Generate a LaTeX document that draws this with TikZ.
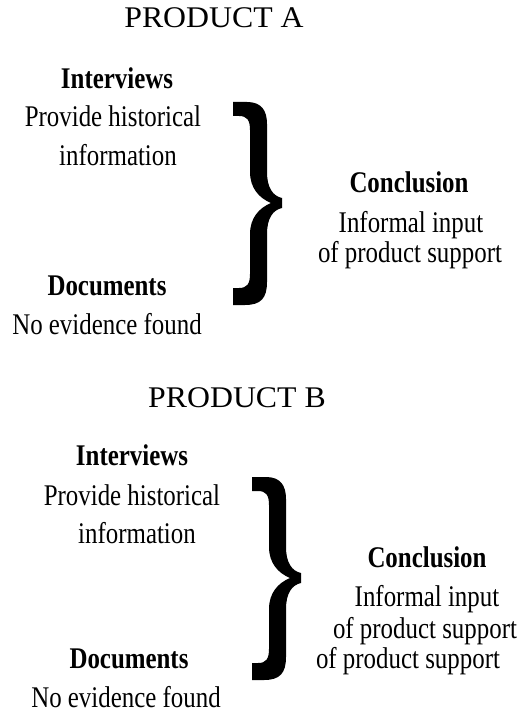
\documentclass[tikz,border=0pt]{standalone}
\usepackage{fontspec}
\setmainfont{Liberation Serif}[FakeStretch=0.83]
\newfontfamily\titlefont{Liberation Serif}[FakeStretch=1.06]

\begin{document}
\begin{tikzpicture}[x=1pt,y=-1pt,
  txt/.style={anchor=base,inner sep=0pt,font=\fontsize{30}{36}\selectfont},
  head/.style={anchor=base,inner sep=0pt,font=\fontsize{30}{36}\selectfont\bfseries},
  title/.style={anchor=base,inner sep=0pt,font=\titlefont\fontsize{30}{36}\selectfont},
  curly/.pic={
    % heavy closing brace, 49 wide and 203 tall, tip pointing right
    \fill[black] (0,0) -- (14,0) .. controls (28,0) and (34,8) .. (34,22)
      -- (34,70) .. controls (34,86) and (40,94) .. (49,96)
      -- (49,106) .. controls (40,108) and (34,116) .. (34,132)
      -- (34,180) .. controls (34,196) and (28,203) .. (12,203)
      -- (0,203) -- (0,186) -- (6,186) .. controls (14,186) and (17,182) .. (17,172)
      -- (17,132) .. controls (17,116) and (26,106) .. (38,101)
      .. controls (26,96) and (17,86) .. (17,70)
      -- (17,28) .. controls (17,18) and (14,14) .. (6,14) -- (0,14) -- cycle;
  }]
\useasboundingbox (0,0) rectangle (522,714);

% ---------- Product A ----------
\node[title] (titleA) at (214,28) {PRODUCT A};
\node[head] (intA)  at (117,89)  {Interviews};
\node[txt]  (provA) at (113,127) {Provide historical};
\node[txt]  (infoA) at (118,166) {information};
\node[head] (docA)  at (107,295) {Documents};
\node[txt]  (noA)   at (107,334) {No evidence found};
\pic at (233,102) {curly};
\node[head] (conA)  at (409,193) {Conclusion};
\node[txt]  (inpA)  at (411,232) {Informal input};
\node[txt]  (supA)  at (410,262) {of product support};

% ---------- Product B ----------
\node[title] (titleB) at (237,407) {PRODUCT B};
\node[head] (intB)  at (132,465) {Interviews};
\node[txt]  (provB) at (132,505) {Provide historical};
\node[txt]  (infoB) at (137,543) {information};
\node[head] (docB)  at (129,668) {Documents};
\node[txt]  (noB)   at (126,707) {No evidence found};
\pic at (252,477) {curly};
\node[head] (conB)  at (427,567) {Conclusion};
\node[txt]  (inpB)  at (427,606) {Informal input};
\node[txt]  (supB)  at (425,638) {of product support};
\node[txt]  (supBb) at (408,668) {of product support};
\end{tikzpicture}
\end{document}
